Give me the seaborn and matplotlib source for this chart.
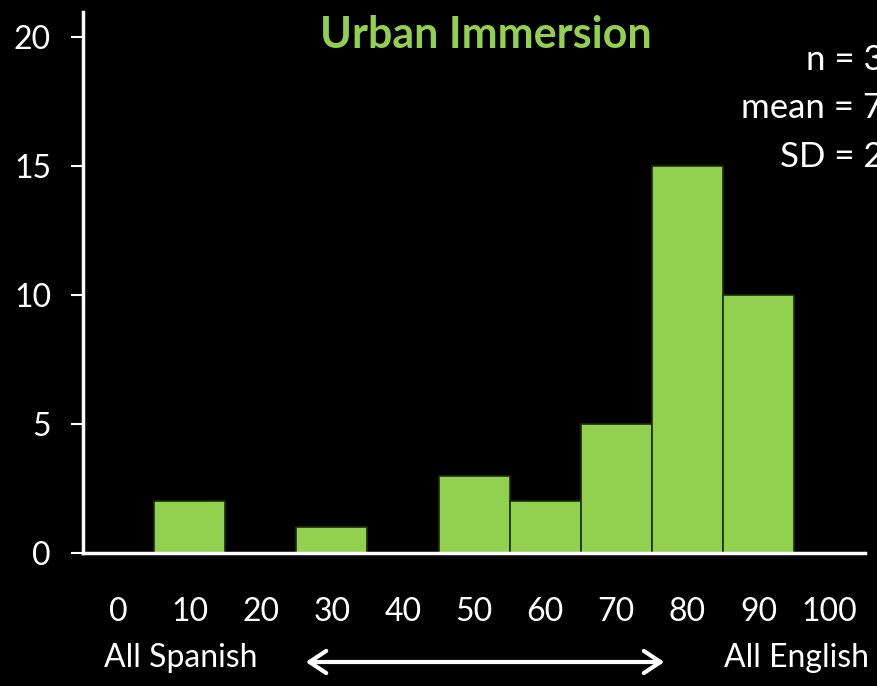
import numpy as np
import pandas as pd
import matplotlib
matplotlib.use("Agg")
import matplotlib.pyplot as plt
import seaborn as sns

# histogram data (bin centres and counts)
bin_centres = [10, 30, 50, 60, 70, 80, 90]
counts = [2, 1, 3, 2, 5, 15, 10]
bin_edges = list(range(5, 100, 10))
x_ticks = list(range(0, 101, 10))
y_ticks = [0, 5, 10, 15, 20]
title = "Urban Immersion"
left_label = "All Spanish"
right_label = "All English"

green = "#92D050"

sns.set_theme(style="ticks")
plt.rcParams["font.family"] = ["Lato", "DejaVu Sans"]

df = pd.DataFrame({"score": bin_centres, "count": counts})

fig = plt.figure(figsize=(8.77, 6.86), dpi=100, facecolor="black")
ax = fig.add_axes([0.0946, 0.194, 0.892, 0.789])
ax.set_facecolor("black")

sns.histplot(data=df, x="score", weights="count", bins=bin_edges,
             color=green, alpha=1, edgecolor="#1c2b10", linewidth=1.2, ax=ax)

ax.set_xlim(-5, 105)
ax.set_ylim(0, 21)
ax.set_xticks(x_ticks)
ax.set_yticks(y_ticks)
ax.set_xlabel("")
ax.set_ylabel("")

for side in ["top", "right"]:
    ax.spines[side].set_visible(False)
for side in ["left", "bottom"]:
    ax.spines[side].set_color("white")
    ax.spines[side].set_linewidth(2.5)

ax.tick_params(axis="x", length=0, pad=32, labelsize=23, labelcolor="white")
ax.tick_params(axis="y", length=9, width=1.5, color="white", pad=14,
               labelsize=23, labelcolor="white", direction="out")

fig.text(486 / 877, 1 - 35 / 686, title, ha="center", va="center",
         color=green, fontsize=31, fontweight="bold")

# summary stats from the data (cut off at the right edge, as in the original)
vals = np.repeat(bin_centres, counts)
n = len(vals)
mean = vals.mean()
sd = vals.std(ddof=1)
stats = [f"n = {n}", f"mean = {mean:.0f}", f"SD = {sd:.0f}"]
for i, s in enumerate(stats):
    fig.text(1.03, 1 - (60 + i * 48.5) / 686, s, ha="right", va="center",
             color="white", fontsize=25)

# bottom language labels with double arrow
fig.text(181 / 877, 1 - 658 / 686, left_label, ha="center", va="center",
         color="white", fontsize=23)
fig.text(796 / 877, 1 - 658 / 686, right_label, ha="center", va="center",
         color="white", fontsize=23)
fig.patches.append(matplotlib.patches.FancyArrowPatch(
    (303 / 877, 1 - 662 / 686), (667 / 877, 1 - 662 / 686),
    transform=fig.transFigure, arrowstyle="<->,head_length=0.6,head_width=0.4",
    color="white", linewidth=3, mutation_scale=20))

fig.savefig("out.png", dpi=100, facecolor="black")
